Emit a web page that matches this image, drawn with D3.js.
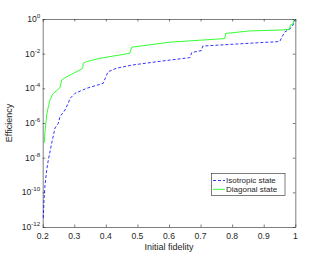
<!DOCTYPE html>
<html>
<head>
<meta charset="utf-8">
<script src="https://cdn.jsdelivr.net/npm/d3@7"></script>
<style>
  body { margin: 0; background: #fff; }
  text { font-family: "Liberation Sans", Arial, sans-serif; fill: #262626; }
</style>
</head>
<body>
<div id="chart"></div>
<script>
// Diagonal state (green, solid): initial fidelity vs efficiency
const diagF = [0.2051, 0.2073, 0.2127, 0.2168, 0.2231, 0.2316, 0.2547, 0.2601, 0.2706, 0.2917, 0.318, 0.3265, 0.3284, 0.3392, 0.381, 0.476, 0.4815, 0.6025, 0.7765, 0.7797, 0.8556, 0.961, 0.982, 0.9843, 0.9925, 0.9957, 0.999];
const diagE = [7.2e-8, 3.2e-7, 2.9e-6, 7.1e-6, 2.1e-5, 4.7e-5, 1.1e-4, 3.0e-4, 4.1e-4, 6.5e-4, 1.15e-3, 1.45e-3, 2.75e-3, 3.5e-3, 5.4e-3, 1.05e-2, 2.35e-2, 4.6e-2, 7.4e-2, 0.148, 0.204, 0.234, 0.257, 0.447, 0.513, 0.87, 1];

// Isotropic state (blue, dashed)
const isoF = [0.202, 0.2041, 0.2073, 0.2127, 0.2177, 0.2285, 0.2389, 0.2493, 0.2547, 0.2705, 0.281, 0.2863, 0.3021, 0.3391, 0.3917, 0.4024, 0.4075, 0.434, 0.4865, 0.5805, 0.6658, 0.6722, 0.7022, 0.707, 0.8556, 0.9505, 0.9663, 0.982, 0.9884, 0.9931, 0.999];
const isoE = [3.3e-12, 3.6e-11, 2.6e-10, 1.95e-9, 7.2e-9, 6.8e-8, 5.1e-7, 9.5e-7, 2.3e-6, 5.6e-6, 1.4e-5, 2.6e-5, 5.1e-5, 1.0e-4, 1.95e-4, 5.9e-4, 9.1e-4, 1.45e-3, 2.25e-3, 3.8e-3, 5.9e-3, 1.17e-2, 1.5e-2, 2.75e-2, 4.0e-2, 5.0e-2, 0.178, 0.257, 0.363, 0.447, 1];

const xTicks = [0.2, 0.3, 0.4, 0.5, 0.6, 0.7, 0.8, 0.9, 1];
const yExps = [0, -2, -4, -6, -8, -10, -12];
const legendNames = ['Isotropic state', 'Diagonal state'];

const width = 326, height = 255;
const m = { left: 42.7, right: 295.3, top: 19, bottom: 227 };

const svg = d3.select('#chart').append('svg')
  .attr('width', width).attr('height', height);

const x = d3.scaleLinear().domain([0.2, 1]).range([m.left, m.right]);
const y = d3.scaleLog().domain([1e-12, 1]).range([m.bottom, m.top]);

// axes (ticks inward, box on)
const axisColor = '#262626';
function styleAxis(g) {
  g.select('.domain').attr('stroke', axisColor).attr('stroke-width', 0.6);
  g.selectAll('.tick line').attr('stroke', axisColor).attr('stroke-width', 0.6);
  g.selectAll('.tick text').remove();
}
const yTickVals = yExps.map(e => Math.pow(10, e));
svg.append('g').attr('transform', `translate(0,${m.bottom})`)
  .call(d3.axisBottom(x).tickValues(xTicks).tickSizeInner(-2.5).tickSizeOuter(0)).call(styleAxis);
svg.append('g').attr('transform', `translate(0,${m.top})`)
  .call(d3.axisTop(x).tickValues(xTicks).tickSizeInner(-2.5).tickSizeOuter(0)).call(styleAxis);
svg.append('g').attr('transform', `translate(${m.left},0)`)
  .call(d3.axisLeft(y).tickValues(yTickVals).tickSizeInner(-2.5).tickSizeOuter(0)).call(styleAxis);
svg.append('g').attr('transform', `translate(${m.right},0)`)
  .call(d3.axisRight(y).tickValues(yTickVals).tickSizeInner(-2.5).tickSizeOuter(0)).call(styleAxis);

// x tick labels
svg.append('g').selectAll('text').data(xTicks).enter().append('text')
  .attr('x', d => x(d)).attr('y', m.bottom + 11.5)
  .attr('text-anchor', 'middle').style('font-size', '8.6px')
  .text(d => d);

// y tick labels with superscript
const yl = svg.append('g').selectAll('text').data(yExps).enter().append('text')
  .attr('x', m.left - 2.5).attr('y', d => y(Math.pow(10, d)) + 3)
  .attr('text-anchor', 'end').style('font-size', '8.6px');
yl.append('tspan').text('10');
yl.append('tspan').attr('dy', -4).style('font-size', '6.2px').text(d => d);

// axis labels
svg.append('text').attr('x', (m.left + m.right) / 2).attr('y', 249.5)
  .attr('text-anchor', 'middle').style('font-size', '9px').text('Initial fidelity');
svg.append('text').attr('transform', `translate(12,${(m.top + m.bottom) / 2}) rotate(-90)`)
  .attr('text-anchor', 'middle').style('font-size', '9px').text('Efficiency');

// curves
const line = d3.line().x(d => x(d[0])).y(d => y(d[1]));
svg.append('path').datum(d3.zip(isoF, isoE))
  .attr('d', line).attr('fill', 'none').attr('stroke', '#0000ff')
  .attr('stroke-width', 0.8).attr('stroke-dasharray', '3,2');
svg.append('path').datum(d3.zip(diagF, diagE))
  .attr('d', line).attr('fill', 'none').attr('stroke', '#00ff00')
  .attr('stroke-width', 0.8);

// legend
const lg = svg.append('g');
lg.append('rect').attr('x', 211.5).attr('y', 173.5).attr('width', 73.5).attr('height', 22)
  .attr('fill', '#fff').attr('stroke', axisColor).attr('stroke-width', 0.6);
const colors = ['#0000ff', '#00ff00'];
legendNames.forEach((name, i) => {
  const yy = 180.5 + i * 8.8;
  const ln = lg.append('line').attr('x1', 213).attr('x2', 225).attr('y1', yy).attr('y2', yy)
    .attr('stroke', colors[i]).attr('stroke-width', 0.8);
  if (i === 0) ln.attr('stroke-dasharray', '3,2');
  lg.append('text').attr('x', 226).attr('y', yy + 2.8).style('font-size', '8px').text(name);
});
</script>
</body>
</html>
